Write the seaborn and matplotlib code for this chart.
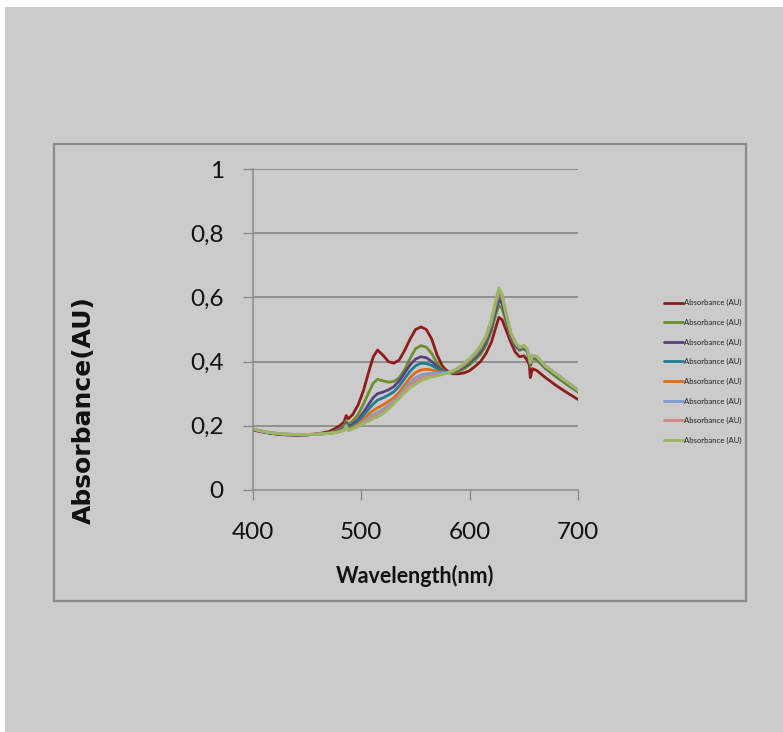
import matplotlib
matplotlib.use("Agg")
import matplotlib.pyplot as plt
from matplotlib.patches import Rectangle
import seaborn as sns

wavelength = [400, 410, 420, 430, 440, 450, 460, 470, 475, 480, 484, 486, 488, 492, 497,
              502, 507, 511, 515, 520, 525, 530, 535, 540, 545, 550, 555, 560, 565, 570,
              575, 580, 585, 590, 595, 600, 605, 610, 615, 620, 624, 627, 630, 634, 638,
              642, 646, 650, 653, 655, 656, 658, 662, 670, 680, 690, 700]

s1 = [.187, .180, .175, .172, .171, .172, .175, .182, .190, .200, .212, .232, .222, .235, .265,
      .310, .370, .415, .436, .420, .400, .395, .405, .435, .470, .500, .508, .500, .470, .420,
      .385, .368, .362, .362, .365, .372, .385, .400, .425, .460, .505, .538, .530, .495, .460,
      .430, .415, .418, .405, .390, .350, .378, .372, .350, .325, .303, .282]
s2 = [.189, .181, .176, .173, .172, .172, .174, .178, .183, .190, .198, .215, .205, .215, .235,
      .268, .305, .333, .345, .340, .336, .338, .350, .375, .410, .440, .450, .445, .425, .395,
      .375, .365, .365, .370, .378, .390, .405, .422, .450, .495, .545, .575, .565, .520, .475,
      .448, .435, .440, .430, .405, .385, .410, .405, .378, .352, .328, .305]
s3 = [.188, .180, .175, .172, .171, .172, .174, .177, .181, .186, .193, .208, .197, .205, .220,
      .242, .268, .288, .300, .305, .312, .322, .340, .365, .390, .408, .415, .412, .400, .385,
      .372, .366, .368, .374, .384, .396, .412, .430, .460, .505, .560, .592, .580, .530, .480,
      .452, .438, .444, .434, .410, .392, .414, .410, .382, .357, .332, .308]
s4 = [.189, .181, .176, .173, .172, .172, .174, .177, .180, .185, .190, .205, .193, .200, .213,
      .232, .253, .268, .280, .287, .296, .306, .324, .348, .370, .387, .395, .394, .388, .378,
      .370, .366, .369, .376, .387, .400, .416, .436, .466, .512, .570, .602, .590, .535, .484,
      .455, .440, .446, .436, .412, .394, .416, .412, .384, .358, .333, .309]
s5 = [.190, .182, .177, .174, .173, .173, .175, .177, .179, .183, .188, .202, .189, .195, .205,
      .220, .237, .248, .256, .265, .276, .287, .305, .328, .350, .366, .374, .376, .374, .370,
      .367, .366, .370, .378, .390, .404, .421, .442, .473, .520, .578, .612, .598, .540, .487,
      .458, .443, .448, .438, .414, .396, .418, .414, .386, .360, .335, .311]
s6 = [.190, .182, .177, .174, .173, .173, .174, .176, .178, .182, .187, .201, .187, .192, .201,
      .213, .226, .235, .242, .252, .264, .277, .295, .316, .336, .350, .358, .362, .363, .363,
      .364, .366, .371, .380, .392, .407, .424, .446, .477, .525, .584, .620, .604, .543, .489,
      .459, .444, .449, .439, .415, .397, .419, .415, .386, .361, .336, .311]
s7 = [.190, .182, .177, .174, .173, .173, .174, .176, .178, .182, .186, .200, .186, .191, .199,
      .210, .220, .229, .235, .245, .258, .272, .290, .309, .327, .340, .349, .354, .357, .359,
      .362, .365, .371, .381, .393, .408, .426, .448, .478, .527, .587, .624, .607, .544, .490,
      .460, .445, .450, .440, .415, .397, .419, .415, .386, .361, .336, .311]
s8 = [.190, .182, .177, .174, .173, .173, .174, .176, .178, .182, .186, .200, .185, .190, .198,
      .207, .215, .222, .228, .238, .252, .268, .285, .302, .318, .330, .340, .347, .352, .356,
      .360, .365, .372, .382, .395, .410, .428, .450, .480, .530, .590, .630, .610, .545, .490,
      .460, .445, .450, .440, .415, .398, .420, .415, .385, .360, .335, .310]

series = [s1, s2, s3, s4, s5, s6, s7, s8]
series_label = "Absorbance (AU)"
colors = ["#8e1c1c", "#6f8f2c", "#5b3f80", "#1f7c92", "#e06c14", "#7f9ccb", "#cf8585", "#98b961"]

y_ticks = [0, 0.2, 0.4, 0.6, 0.8, 1.0]
y_ticklabels = ["0", "0,2", "0,4", "0,6", "0,8", "1"]
x_ticks = [400, 500, 600, 700]
x_ticklabels = ["400", "500", "600", "700"]

sns.set_theme(style="white")
plt.rcParams["font.family"] = ["Lato", "DejaVu Sans"]

W, H = 783, 732
fig = plt.figure(figsize=(W / 100, H / 100), dpi=100)
fig.patch.set_facecolor("white")
bg = "#cbcbcb"
fig.add_artist(Rectangle((5 / W, 0), 1 - 5 / W, 1 - 7 / H, transform=fig.transFigure,
                         facecolor=bg, edgecolor="none", zorder=-10))
fig.add_artist(Rectangle((54 / W, 1 - 601 / H), (746 - 54) / W, (601 - 144) / H,
                         transform=fig.transFigure, facecolor="none",
                         edgecolor="#8a8a8a", linewidth=1.6, zorder=-5))

ax = fig.add_axes([253 / W, 1 - 490 / H, (578 - 253) / W, (490 - 169) / H])
ax.set_facecolor("none")

for vals, c in zip(series, colors):
    sns.lineplot(x=wavelength, y=vals, color=c, linewidth=2.0, label=series_label, ax=ax)

ax.set_xlim(400, 700)
ax.set_ylim(0, 1)
ax.set_yticks(y_ticks)
ax.set_yticklabels(y_ticklabels)
ax.set_xticks(x_ticks)
ax.set_xticklabels(x_ticklabels)
for y in y_ticks[1:]:
    ax.axhline(y, color="#808080", linewidth=1.1, zorder=0)

for side in ["top", "right"]:
    ax.spines[side].set_visible(False)
for side in ["left", "bottom"]:
    ax.spines[side].set_visible(True)
    ax.spines[side].set_color("#8a8a8a")
    ax.spines[side].set_linewidth(1.1)

ax.tick_params(axis="both", which="major", direction="out", length=7, width=1,
               color="#8a8a8a", labelsize=17.5, labelcolor="#111111", left=True, bottom=True)
ax.tick_params(axis="y", pad=14)
ax.tick_params(axis="x", pad=16)

ax.set_xlabel("Wavelength(nm)", fontsize=15.5, fontweight="bold", color="#111111")
ax.set_ylabel("Absorbance(AU)", fontsize=18, fontweight="bold", color="#111111",
              family=["DejaVu Sans"])
ax.xaxis.set_label_coords(0.5, (490 - 576) / 321)
ax.yaxis.set_label_coords((84 - 253) / 325, (490 - 410) / 321)
ax.xaxis.label.set_va("center")
ax.yaxis.label.set_va("center")

handles, labels = ax.get_legend_handles_labels()
leg = fig.legend(handles, labels, loc="center left", bbox_to_anchor=(664 / W, 1 - 371.5 / H),
                 frameon=False, fontsize=5.6, handlelength=2.4, handletextpad=0.2,
                 labelspacing=1.6, borderpad=0, borderaxespad=0)
for t in leg.get_texts():
    t.set_color("#222222")
if ax.get_legend():
    ax.get_legend().remove()

fig.savefig("out.png", dpi=100, facecolor=fig.get_facecolor())
